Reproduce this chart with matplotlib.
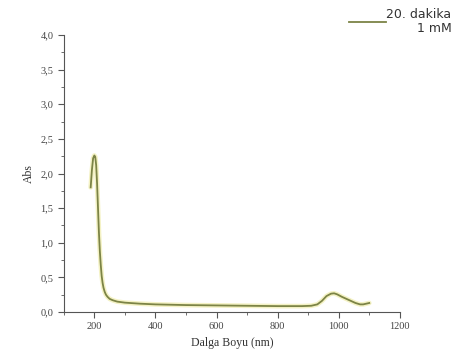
import matplotlib.pyplot as plt
from matplotlib.ticker import MultipleLocator, FuncFormatter

# spectrum (wavelength in nm, absorbance)
wavelength = [188, 192, 196, 200, 203, 206, 209, 212, 215, 218, 221, 224, 227,
              230, 234, 238, 243, 250, 260, 275, 300, 350, 400, 500, 600, 700,
              800, 880, 910, 930, 945, 960, 975, 985, 995, 1010, 1025, 1040,
              1055, 1070, 1080, 1090, 1100]
absorb = [1.80, 2.05, 2.22, 2.26, 2.24, 2.12, 1.85, 1.50, 1.15, 0.88, 0.68, 0.52,
          0.42, 0.35, 0.29, 0.25, 0.22, 0.19, 0.17, 0.15, 0.135, 0.12, 0.11,
          0.10, 0.095, 0.09, 0.085, 0.085, 0.09, 0.11, 0.16, 0.23, 0.265, 0.27,
          0.255, 0.22, 0.19, 0.16, 0.13, 0.11, 0.11, 0.12, 0.13]

label = "20. dakika\n1 mM"
line_color = "#7c8446"

fig = plt.figure(figsize=(4.59, 3.63), dpi=100)
ax = fig.add_axes([0.139, 0.1405, 0.732, 0.763])

ax.plot(wavelength, absorb, color="#f4f2c4", lw=3.4, solid_capstyle="round")
ax.plot(wavelength, absorb, color=line_color, lw=1.3, label=label)

ax.set_xlim(100, 1200)
ax.set_ylim(0, 4.0)
ax.xaxis.set_major_locator(MultipleLocator(200))
ax.xaxis.set_minor_locator(MultipleLocator(100))
ax.yaxis.set_major_locator(MultipleLocator(0.5))
ax.yaxis.set_minor_locator(MultipleLocator(0.25))
ax.yaxis.set_major_formatter(FuncFormatter(lambda v, p: f"{v:.1f}".replace(".", ",")))

for s in ["top", "right"]:
    ax.spines[s].set_visible(False)
for s in ["left", "bottom"]:
    ax.spines[s].set_color("#555555")
    ax.spines[s].set_linewidth(0.8)

ax.tick_params(which="major", direction="out", length=4, width=0.8, color="#555555",
               labelsize=7.5, labelcolor="#444444")
ax.tick_params(which="minor", direction="out", length=2, width=0.6, color="#555555")
for t in ax.get_xticklabels() + ax.get_yticklabels():
    t.set_family("Liberation Serif")

ax.set_xlabel("Dalga Boyu (nm)", family="Liberation Serif", fontsize=8.5, color="#333333")
ax.set_ylabel("Abs", family="Liberation Serif", fontsize=8.5, color="#333333")

leg = fig.legend(loc="upper right", bbox_to_anchor=(1.0, 1.0), frameon=False,
                 fontsize=9, handlelength=3.0, handletextpad=0.0, borderaxespad=0.2)
for t in leg.get_texts():
    t.set_multialignment("right")
    t.set_color("#333333")

fig.savefig("out.png", dpi=100)
